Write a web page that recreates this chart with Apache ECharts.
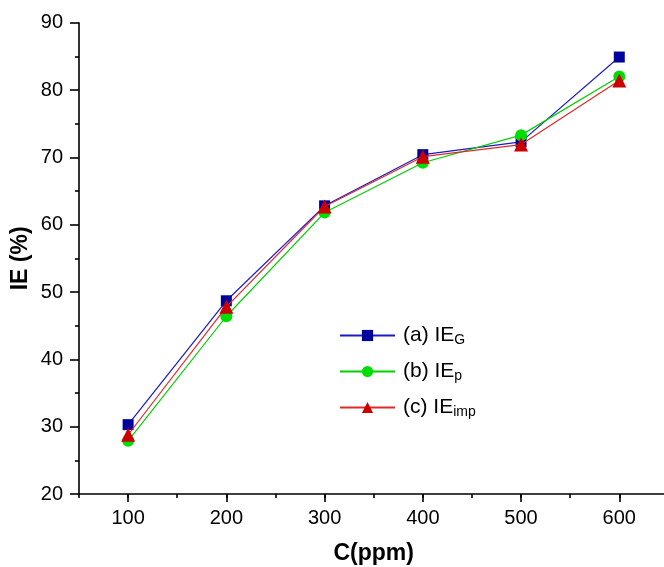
<!DOCTYPE html>
<html>
<head>
<meta charset="utf-8">
<script src="https://cdn.jsdelivr.net/npm/echarts@6/dist/echarts.min.js"></script>
<style>
  html, body { margin: 0; padding: 0; background: #fff; }
  #chart { width: 664px; height: 567px; }
</style>
</head>
<body>
<div id="chart"></div>
<script>
// Concentration of inhibitor (ppm)
var concentrations = [100, 200, 300, 400, 500, 600];

// Inhibition efficiency (%) from the three methods
var ieG   = [30.3, 48.7, 62.8, 70.4, 72.3, 84.9];
var ieP   = [27.9, 46.4, 61.8, 69.2, 73.3, 82.0];
var ieImp = [28.8, 47.8, 62.7, 70.1, 71.9, 81.4];

// Legend text: main part and subscript
var seriesLabels = ['(a) IE', '(b) IE', '(c) IE'];
var seriesSubs   = ['G', 'p', 'imp'];

var FONT = 'Liberation Sans, Arial, sans-serif';

function pairs(xs, ys) {
  return xs.map(function (x, i) { return [x, ys[i]]; });
}

var names = seriesLabels.map(function (l, i) { return l + seriesSubs[i]; });

var chart = echarts.init(document.getElementById('chart'), null, { renderer: 'canvas' });

var axisLineStyle = { color: '#000', width: 1.6 };

chart.setOption({
  animation: false,
  backgroundColor: '#fff',
  grid: {
    left: 79, top: 22.7, right: -4.4, bottom: 73,
    containLabel: false,
    outerBoundsMode: 'none'
  },
  legend: {
    orient: 'vertical',
    left: 339,
    top: 325,
    padding: 0,
    itemWidth: 55,
    itemHeight: 14,
    itemGap: 13.5,
    data: names,
    formatter: function (name) {
      var i = names.indexOf(name);
      return '{m|' + seriesLabels[i] + '}{s|' + seriesSubs[i] + '}';
    },
    textStyle: {
      fontFamily: FONT,
      color: '#000',
      rich: {
        m: { fontSize: 21, lineHeight: 24, fontFamily: FONT, color: '#000', padding: [0, 0, 0, 3] },
        s: { fontSize: 14, lineHeight: 14, fontFamily: FONT, color: '#000', verticalAlign: 'bottom', padding: [3, 0, 0, 0] }
      }
    }
  },
  xAxis: [
    {
      type: 'value',
      min: 50,
      max: 650,
      splitNumber: 6,
      name: 'C(ppm)',
      nameLocation: 'middle',
      nameGap: 48,
      nameMoveOverlap: false,
      nameTextStyle: { fontFamily: FONT, fontSize: 23, fontWeight: 'bold', color: '#000' },
      axisLine: { show: true, lineStyle: axisLineStyle },
      axisTick: { show: true, inside: false, length: 8, lineStyle: { color: '#000', width: 1.6 } },
      axisLabel: {
        fontFamily: FONT, fontSize: 20, color: '#000', margin: 14,
        showMinLabel: false, showMaxLabel: false
      },
      splitLine: { show: false }
    },
    {
      // minor ticks every 50 ppm
      type: 'value',
      position: 'bottom',
      min: 50,
      max: 650,
      interval: 50,
      axisLine: { show: false },
      axisTick: { show: true, inside: false, length: 4, lineStyle: { color: '#000', width: 1.6 } },
      axisLabel: { show: false },
      splitLine: { show: false }
    }
  ],
  yAxis: {
    type: 'value',
    min: 20,
    max: 90,
    interval: 10,
    name: 'IE (%)',
    nameLocation: 'middle',
    nameGap: 47,
    nameMoveOverlap: false,
    nameTextStyle: { fontFamily: FONT, fontSize: 23, fontWeight: 'bold', color: '#000' },
    axisLine: { show: true, lineStyle: axisLineStyle },
    axisTick: { show: true, inside: false, length: 9, lineStyle: { color: '#000', width: 1.6 } },
    minorTick: { show: true, splitNumber: 2, length: 4, lineStyle: { color: '#000', width: 1.6 } },
    axisLabel: { fontFamily: FONT, fontSize: 20, color: '#000', margin: 16 },
    splitLine: { show: false }
  },
  series: [
    {
      name: names[0],
      type: 'line',
      xAxisIndex: 0,
      data: pairs(concentrations, ieG),
      symbol: 'rect',
      symbolSize: 11,
      itemStyle: { color: '#00009c' },
      lineStyle: { color: '#1a1ac8', width: 1.2 },
      z: 2
    },
    {
      name: names[1],
      type: 'line',
      xAxisIndex: 0,
      data: pairs(concentrations, ieP),
      symbol: 'circle',
      symbolSize: 12,
      itemStyle: { color: '#00dd00' },
      lineStyle: { color: '#00d000', width: 1.2 },
      z: 3
    },
    {
      name: names[2],
      type: 'line',
      xAxisIndex: 0,
      data: pairs(concentrations, ieImp),
      symbol: 'triangle',
      symbolSize: 14,
      itemStyle: { color: '#cc0000' },
      lineStyle: { color: '#e02a2a', width: 1.2 },
      z: 4
    }
  ]
});
</script>
</body>
</html>
